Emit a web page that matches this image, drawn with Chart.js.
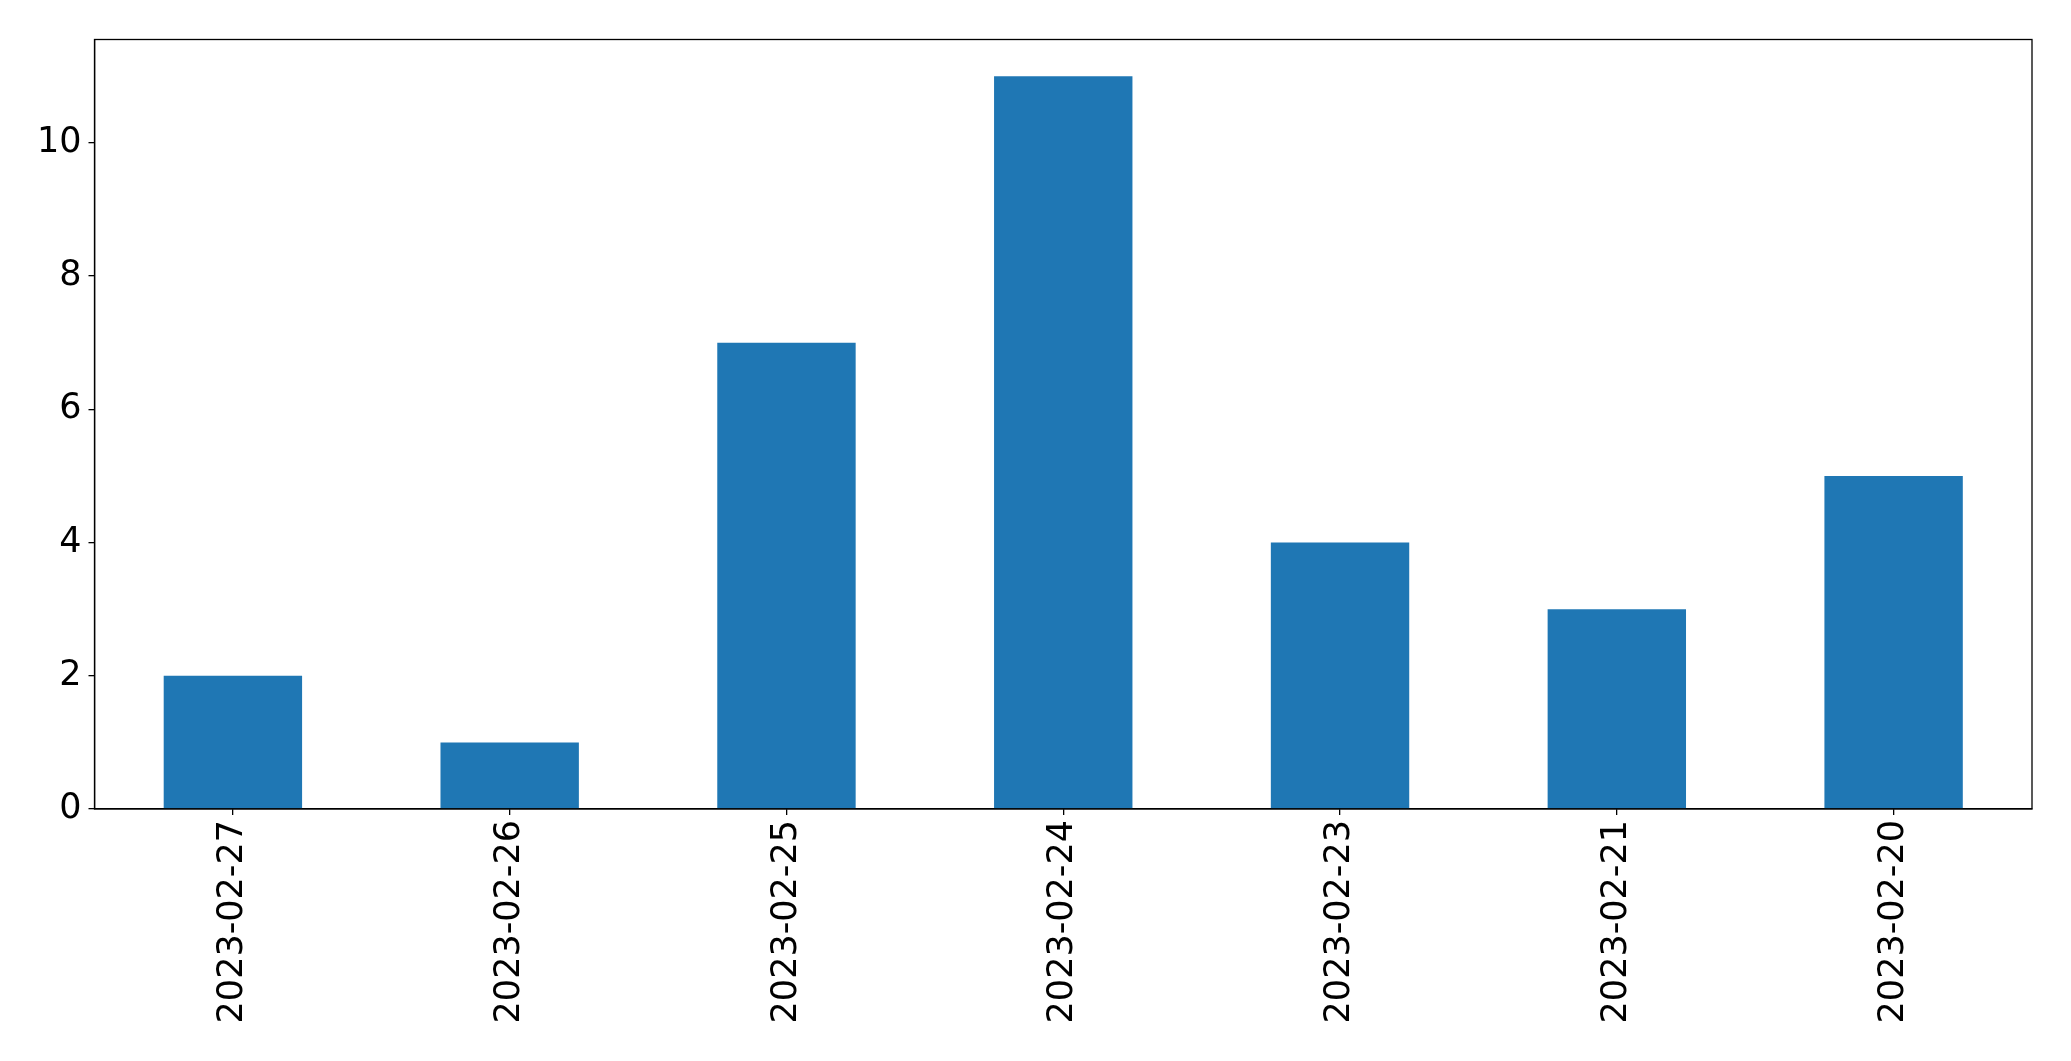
<!DOCTYPE html>
<html>
<head>
<meta charset="utf-8">
<script src="https://cdn.jsdelivr.net/npm/chart.js@4"></script>
<style>
  body { margin: 0; background: #fff; }
  #wrap { width: 2071px; height: 1061px; }
</style>
</head>
<body>
<div id="wrap"><canvas id="myChart" width="2071" height="1061"></canvas></div>
<script>
    // dates as they appear on the x axis, left to right
    var dates = ['2023-02-27', '2023-02-26', '2023-02-25', '2023-02-24', '2023-02-23', '2023-02-21', '2023-02-20'];
    var counts = [2, 1, 7, 11, 4, 3, 5];
    var yMax = 11.55;

    var font = { family: 'DejaVu Sans', size: 35 };

    // top and right edges of the axes box
    var frame = {
        id: 'frame',
        afterDraw: function(chart) {
            var a = chart.chartArea, c = chart.ctx;
            c.save();
            c.strokeStyle = '#000';
            c.lineWidth = 1.3;
            c.strokeRect(a.left, a.top, a.right - a.left, a.bottom - a.top);
            c.restore();
        }
    };

    var ctx = document.getElementById('myChart');
    var myChart = new Chart(ctx, {
        type: 'bar',
        data: {
            labels: dates,
            datasets: [{
                data: counts,
                backgroundColor: '#1f77b4',
                borderWidth: 0,
                categoryPercentage: 1,
                barPercentage: 0.5,
            }, ],
        },
        options: {
            responsive: false,
            animation: false,
            layout: { padding: { top: 39.5, right: 39, left: 0, bottom: 0 } },
            plugins: { legend: { display: false }, tooltip: { enabled: false } },
            scales: {
                x: {
                    offset: true,
                    grid: { offset: false, drawOnChartArea: false, tickLength: 6, color: '#000', lineWidth: 1.3 },
                    border: { color: '#000', width: 1.3 },
                    ticks: { color: '#000', font: font, minRotation: 90, maxRotation: 90, padding: 5, autoSkip: false },
                    afterFit: function(s) { s.height = 252; }
                },
                y: {
                    min: 0,
                    max: yMax,
                    grid: { drawOnChartArea: false, tickLength: 6, color: '#000', lineWidth: 1.3 },
                    border: { color: '#000', width: 1.3 },
                    ticks: { color: '#000', font: font, stepSize: 2, includeBounds: false, padding: 7 },
                    afterFit: function(s) { s.width = 94.5; }
                }
            }
        },
        plugins: [frame]
    });
</script>
</body>
</html>
